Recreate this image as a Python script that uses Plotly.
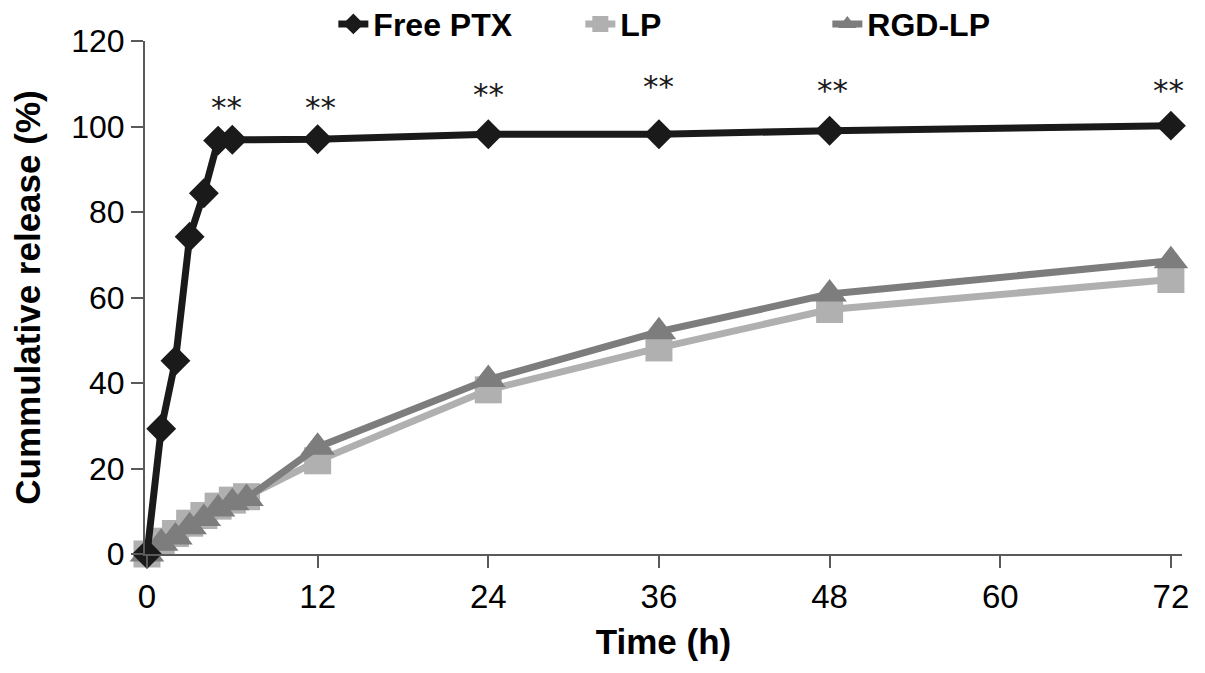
import plotly.graph_objects as go

# release data
ptx_time = [0, 1, 2, 3, 4, 5, 6, 12, 24, 36, 48, 72]
ptx_release = [0, 29.3, 45.2, 74.2, 84.4, 96.7, 96.9, 97.0, 98.2, 98.2, 99.0, 100.2]

lp_time = [0, 1, 2, 3, 4, 5, 6, 7, 12, 24, 36, 48, 72]
lp_release = [0, 3.0, 4.8, 7.2, 9.0, 11.2, 12.6, 13.4, 21.8, 38.4, 48.2, 57.2, 64.2]

rgd_time = [0, 1, 2, 3, 4, 5, 6, 7, 12, 24, 36, 48, 72]
rgd_release = [0, 2.5, 4.0, 6.4, 8.3, 10.5, 12.0, 13.0, 25.0, 40.8, 52.0, 60.8, 68.6]

star_time = [5.6, 12.2, 24, 36, 48.2, 71.8]
star_level = [104.5, 104.5, 107.5, 109.5, 108.5, 108.5]

fig = go.Figure()

fig.add_trace(go.Scatter(
    x=lp_time, y=lp_release, name="LP", mode="lines+markers", legendrank=2,
    line=dict(color="#b0b0b0", width=7),
    marker=dict(symbol="square", size=27, color="#b0b0b0"),
    cliponaxis=False,
))
fig.add_trace(go.Scatter(
    x=rgd_time, y=rgd_release, name="RGD-LP", mode="lines+markers", legendrank=3,
    line=dict(color="#7d7d7d", width=7),
    marker=dict(symbol="triangle-up", size=30, color="#7d7d7d"),
    cliponaxis=False,
))
fig.add_trace(go.Scatter(
    x=ptx_time, y=ptx_release, name="Free PTX", mode="lines+markers", legendrank=1,
    line=dict(color="#1a1a1a", width=7),
    marker=dict(symbol="diamond", size=23, color="#1a1a1a"),
    cliponaxis=False,
))

for t, v in zip(star_time, star_level):
    fig.add_annotation(x=t, y=v, text="**", showarrow=False,
                       font=dict(family="DejaVu Sans", size=31, color="#1a1a1a"))

fig.update_layout(
    width=1205, height=673,
    paper_bgcolor="white", plot_bgcolor="white",
    margin=dict(l=137, r=31, t=33, b=127, autoexpand=False),
    font=dict(family="Liberation Sans", color="black"),
    legend=dict(orientation="h", x=0.27, xref="container", xanchor="left",
                y=0.976, yref="container", yanchor="middle",
                traceorder="normal", entrywidth=202, entrywidthmode="pixels",
                font=dict(family="Liberation Sans", size=32, weight="bold")),
    showlegend=True,
)
fig.update_xaxes(
    range=[-0.14, 72.78], tickvals=[0, 12, 24, 36, 48, 60, 72], automargin=False,
    showline=True, linecolor="#5a5a5a", linewidth=2,
    ticks="outside", ticklen=12, tickcolor="#5a5a5a", tickwidth=2,
    showgrid=False, zeroline=False,
    tickfont=dict(family="Liberation Sans", size=33),
    title=dict(text="Time (h)", font=dict(family="Liberation Sans", size=35, weight="bold"), standoff=16),
)
fig.update_yaxes(
    range=[0, 120], tickvals=[0, 20, 40, 60, 80, 100, 120], automargin=False,
    showline=True, linecolor="#5a5a5a", linewidth=2,
    ticks="outside", ticklen=12, tickcolor="#5a5a5a", tickwidth=2,
    showgrid=False, zeroline=False,
    tickfont=dict(family="Liberation Sans", size=32),
    title=dict(text="Cummulative release (%)", font=dict(family="Liberation Sans", size=35, weight="bold"), standoff=24),
)

fig.write_html("out.html")
